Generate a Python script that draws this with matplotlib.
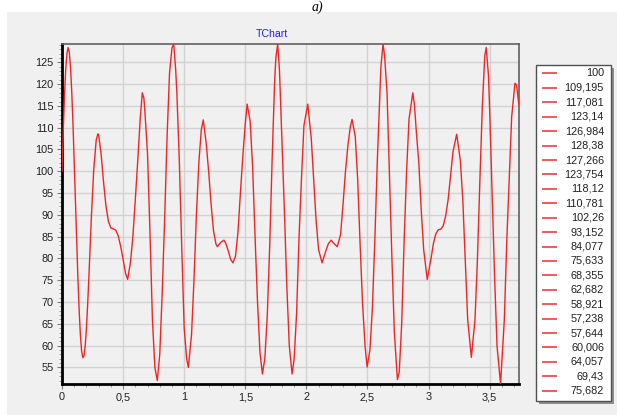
import matplotlib
matplotlib.use("Agg")
import matplotlib.pyplot as plt
from matplotlib.patches import Rectangle
from matplotlib.lines import Line2D
from matplotlib.ticker import MultipleLocator, FuncFormatter

# ---- data ----
x_vals = [0.00, 0.01, 0.02, 0.03, 0.04, 0.05, 0.06, 0.07, 0.08, 0.09,
          0.10, 0.11, 0.12, 0.13, 0.14, 0.15, 0.16, 0.17, 0.18, 0.19,
          0.20, 0.21, 0.22, 0.24, 0.26, 0.28, 0.294, 0.30, 0.32, 0.34,
          0.36, 0.38, 0.40, 0.42, 0.44, 0.46, 0.48, 0.50, 0.52, 0.537,
          0.56, 0.58, 0.60, 0.62, 0.64, 0.657, 0.67, 0.68, 0.70, 0.72,
          0.74, 0.76, 0.78, 0.80, 0.82, 0.84, 0.86, 0.88, 0.90, 0.914,
          0.93, 0.94, 0.96, 0.98, 1.00, 1.02, 1.034, 1.06, 1.08, 1.10,
          1.12, 1.14, 1.156, 1.18, 1.20, 1.22, 1.24, 1.26, 1.272, 1.30,
          1.325, 1.34, 1.36, 1.38, 1.399, 1.42, 1.44, 1.46, 1.48, 1.50,
          1.515, 1.54, 1.56, 1.58, 1.60, 1.62, 1.64, 1.66, 1.68, 1.70,
          1.72, 1.74, 1.75, 1.765, 1.78, 1.80, 1.82, 1.84, 1.86, 1.883,
          1.90, 1.92, 1.94, 1.96, 1.98, 2.011, 2.04, 2.06, 2.08, 2.10,
          2.128, 2.16, 2.18, 2.203, 2.22, 2.253, 2.28, 2.30, 2.32, 2.34,
          2.36, 2.374, 2.40, 2.42, 2.44, 2.46, 2.48, 2.497, 2.52, 2.54,
          2.56, 2.58, 2.60, 2.61, 2.627, 2.64, 2.66, 2.68, 2.70, 2.72,
          2.745, 2.76, 2.78, 2.80, 2.82, 2.84, 2.871, 2.885, 2.90, 2.92,
          2.94, 2.96, 2.989, 3.02, 3.04, 3.06, 3.08, 3.10, 3.12, 3.14,
          3.16, 3.18, 3.20, 3.23, 3.26, 3.28, 3.30, 3.32, 3.35, 3.38,
          3.40, 3.42, 3.44, 3.46, 3.472, 3.49, 3.50, 3.52, 3.54, 3.56,
          3.589, 3.62, 3.64, 3.66, 3.68, 3.707, 3.72, 3.74]
y_vals = [100, 109.195, 117.081, 123.14, 126.984, 128.38, 127.266, 123.754, 118.12, 110.781,
          102.26, 93.152, 84.077, 75.633, 68.355, 62.682, 58.921, 57.238, 57.644, 60.006,
          64.057, 69.43, 75.682, 89.3, 100.5, 107.2, 108.6, 108.3, 104.0, 97.5,
          92.0, 88.5, 87.0, 86.8, 86.5, 85.2, 82.8, 79.8, 76.6, 75.2,
          79.0, 85.0, 93.5, 102.5, 112.0, 118.0, 116.8, 113.0, 104.0, 86.0,
          66.0, 55.0, 52.0, 58.0, 72.0, 89.0, 108.0, 122.5, 128.3, 129.2,
          123.5, 118.0, 102.5, 82.5, 64.0, 57.0, 55.0, 62.5, 75.0, 90.0,
          102.0, 109.5, 111.8, 106.5, 100.0, 92.5, 86.3, 83.3, 82.7, 83.7,
          84.2, 83.5, 81.8, 79.8, 79.0, 80.5, 86.0, 95.0, 103.5, 111.0,
          115.4, 111.5, 101.0, 85.0, 70.0, 58.5, 53.5, 57.0, 67.0, 83.0,
          103.0, 120.5, 126.0, 129.2, 123.0, 107.0, 91.0, 73.5, 60.0, 53.5,
          57.0, 67.5, 85.0, 98.5, 110.5, 115.4, 107.5, 98.0, 88.5, 82.0,
          79.0, 81.8, 83.4, 84.2, 83.6, 82.7, 85.5, 92.5, 100.0, 106.0,
          110.3, 111.9, 108.0, 98.0, 83.0, 69.5, 60.0, 55.1, 59.0, 68.5,
          84.0, 102.0, 117.0, 124.0, 129.2, 126.5, 118.0, 99.0, 80.0, 63.0,
          52.2, 54.0, 65.0, 84.0, 100.0, 112.0, 118.0, 115.0, 109.0, 102.0,
          91.0, 82.0, 75.2, 80.0, 83.5, 85.7, 86.6, 86.7, 87.5, 89.8,
          93.5, 99.0, 104.5, 108.5, 102.5, 93.5, 79.5, 66.0, 57.3, 66.0,
          80.0, 98.0, 115.0, 126.5, 128.4, 122.0, 114.0, 95.0, 76.0, 60.0,
          51.2, 66.0, 84.0, 98.0, 112.5, 120.2, 119.8, 115.0]

title_text = "TChart"
caption_text = "a)"
legend_count = 23

W, H = 617, 415
fig = plt.figure(figsize=(W / 100, H / 100), dpi=100, facecolor="white")

def fx(px):
    return px / W

def fy(py):
    return 1 - py / H

# gray chart panel (behind everything)
fig.patches.append(Rectangle((fx(7), 0), fx(610), 1 - 12 / H, transform=fig.transFigure,
                             facecolor="#f0f0f0", edgecolor="none", zorder=-10))

fig.text(fx(317), fy(1), caption_text, fontsize=10, style="italic",
         family=["Liberation Serif", "DejaVu Serif"], ha="center", va="top")

L, R, T, B = 62, 519, 44, 384
ax = fig.add_axes([fx(L), fy(B), fx(R - L), (B - T) / H])
ax.set_zorder(1)
ax.set_facecolor("#f0f0f0")
ax.plot(x_vals, y_vals, color="#f02424", lw=1.0, zorder=3)

ax.set_xlim(min(x_vals), max(x_vals))
ax.set_ylim(min(y_vals), max(y_vals))

ax.xaxis.set_major_locator(MultipleLocator(0.5))
ax.xaxis.set_minor_locator(MultipleLocator(0.1))
ax.yaxis.set_major_locator(MultipleLocator(5))
ax.yaxis.set_minor_locator(MultipleLocator(1))

def comma_fmt(v, pos):
    s = f"{v:.2f}".rstrip("0").rstrip(".")
    return s.replace(".", ",")

ax.xaxis.set_major_formatter(FuncFormatter(comma_fmt))
ax.yaxis.set_major_formatter(FuncFormatter(comma_fmt))

ax.grid(True, which="major", color="#d2d2d2", lw=1.0, zorder=1)
ax.set_axisbelow(True)

ax.tick_params(which="major", length=3.5, width=0.8, color="#808080",
               labelsize=7.8, labelcolor="#202020", pad=2.5, direction="out")
ax.tick_params(which="minor", length=2, width=0.6, color="#909090", direction="out")
for lab in ax.get_xticklabels() + ax.get_yticklabels():
    lab.set_family(["Liberation Sans", "DejaVu Sans"])

for side in ("left", "bottom"):
    ax.spines[side].set_color("black")
    ax.spines[side].set_linewidth(2.0)
for side in ("top", "right"):
    ax.spines[side].set_color("#606060")
    ax.spines[side].set_linewidth(1.2)

fig.text(fx(272), fy(34), title_text, fontsize=7.6, color="#2020e0",
         family=["Liberation Sans", "DejaVu Sans"], ha="center", va="center")

# legend box
lx0, lx1, ly0, ly1 = 536, 611, 65, 401
fig.patches.append(Rectangle((fx(lx0 + 3), fy(ly1 + 3)), fx(lx1 - lx0), (ly1 - ly0) / H,
                             transform=fig.transFigure, facecolor="#909090",
                             edgecolor="none", zorder=1))
fig.patches.append(Rectangle((fx(lx0), fy(ly1)), fx(lx1 - lx0), (ly1 - ly0) / H,
                             transform=fig.transFigure, facecolor="white",
                             edgecolor="#505050", lw=1.0, zorder=2))

def val_label(v):
    s = f"{v:.3f}".rstrip("0").rstrip(".")
    return s.replace(".", ",")

for i, v in enumerate(y_vals[:legend_count]):
    py = 73.5 + i * 14.42
    fig.add_artist(Line2D([fx(543), fx(556)], [fy(py), fy(py)], transform=fig.transFigure,
                          color="#f05a5a", lw=1.4, zorder=3))
    fig.text(fx(604), fy(py), val_label(v), fontsize=7.8, color="#202020",
             family=["Liberation Sans", "DejaVu Sans"], ha="right", va="center", zorder=3)

fig.savefig("out.png", dpi=100, facecolor="white")
